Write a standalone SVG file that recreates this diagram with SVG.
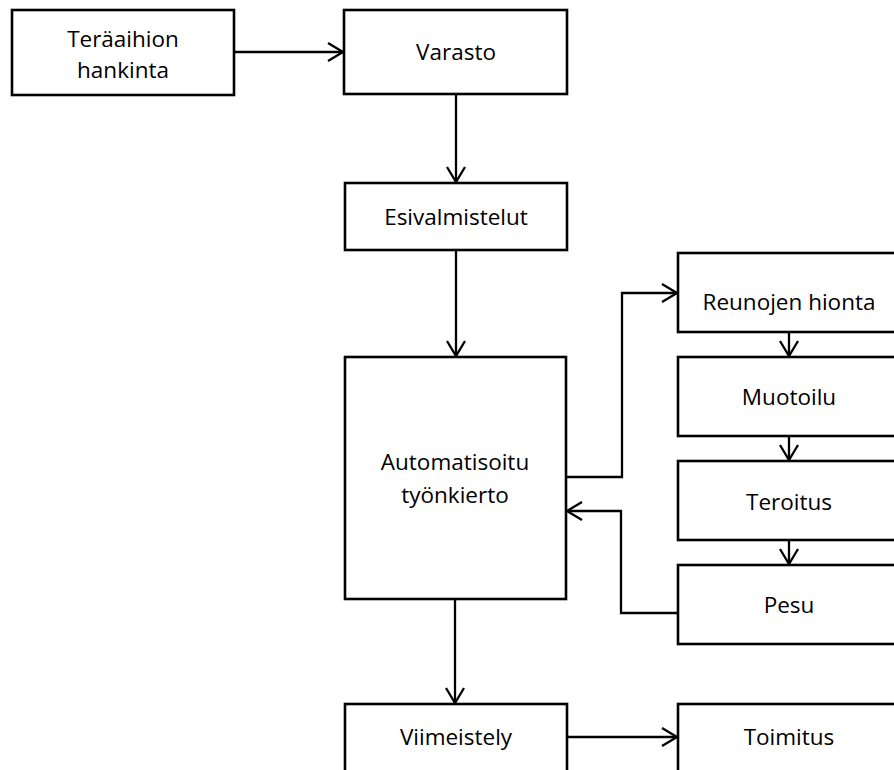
<svg xmlns="http://www.w3.org/2000/svg" width="894" height="770" viewBox="0 0 894 770">
  <style>
    .box { fill: #ffffff; stroke: #000000; stroke-width: 2.6; }
    .lbl { font-family: "Open Sans", "Liberation Sans", sans-serif; font-size: 22.5px; fill: #000000; text-anchor: middle; }
    .edge { fill: none; stroke: #000000; stroke-width: 2.3; marker-end: url(#head); }
  </style>
  <defs>
    <marker id="head" markerUnits="userSpaceOnUse" markerWidth="20" markerHeight="22" viewBox="-17 -11 20 22" refX="0" refY="0" orient="auto">
      <path d="M-15,-9 L0,0 L-15,9" fill="none" stroke="#000000" stroke-width="2.3"/>
    </marker>
  </defs>
  <rect width="894" height="770" fill="#ffffff"/>

  <g id="connectors">
    <path class="edge" d="M234,52 H343"/>
    <path class="edge" d="M456,94 V182"/>
    <path class="edge" d="M456,250 V356"/>
    <path class="edge" d="M566,477 H622 V293 H677"/>
    <path class="edge" d="M789,332 V356"/>
    <path class="edge" d="M789,436 V460"/>
    <path class="edge" d="M789,540 V564"/>
    <path class="edge" d="M678,613 H621 V511 H567"/>
    <path class="edge" d="M455,599 V703"/>
    <path class="edge" d="M567,737 H677"/>
  </g>

  <g id="n-hankinta">
    <rect class="box" x="12" y="10" width="222" height="85"/>
    <text class="lbl" x="123" y="47">Teräaihion</text>
    <text class="lbl" x="123" y="78">hankinta</text>
  </g>
  <g id="n-varasto">
    <rect class="box" x="344" y="10" width="223" height="84"/>
    <text class="lbl" x="456" y="60">Varasto</text>
  </g>
  <g id="n-esivalmistelut">
    <rect class="box" x="345" y="183" width="222" height="67"/>
    <text class="lbl" x="456" y="225">Esivalmistelut</text>
  </g>
  <g id="n-tyonkierto">
    <rect class="box" x="345" y="357" width="221" height="242"/>
    <text class="lbl" x="455" y="470">Automatisoitu</text>
    <text class="lbl" x="455" y="503">työnkierto</text>
  </g>
  <g id="n-reunojen">
    <rect class="box" x="678" y="253" width="222" height="79"/>
    <text class="lbl" x="789" y="310">Reunojen hionta</text>
  </g>
  <g id="n-muotoilu">
    <rect class="box" x="678" y="357" width="222" height="79"/>
    <text class="lbl" x="789" y="405">Muotoilu</text>
  </g>
  <g id="n-teroitus">
    <rect class="box" x="678" y="461" width="222" height="79"/>
    <text class="lbl" x="789" y="510">Teroitus</text>
  </g>
  <g id="n-pesu">
    <rect class="box" x="678" y="565" width="222" height="79"/>
    <text class="lbl" x="789" y="613">Pesu</text>
  </g>
  <g id="n-viimeistely">
    <rect class="box" x="345" y="704" width="222" height="90"/>
    <text class="lbl" x="456" y="745">Viimeistely</text>
  </g>
  <g id="n-toimitus">
    <rect class="box" x="678" y="704" width="222" height="90"/>
    <text class="lbl" x="789" y="745">Toimitus</text>
  </g>
</svg>
